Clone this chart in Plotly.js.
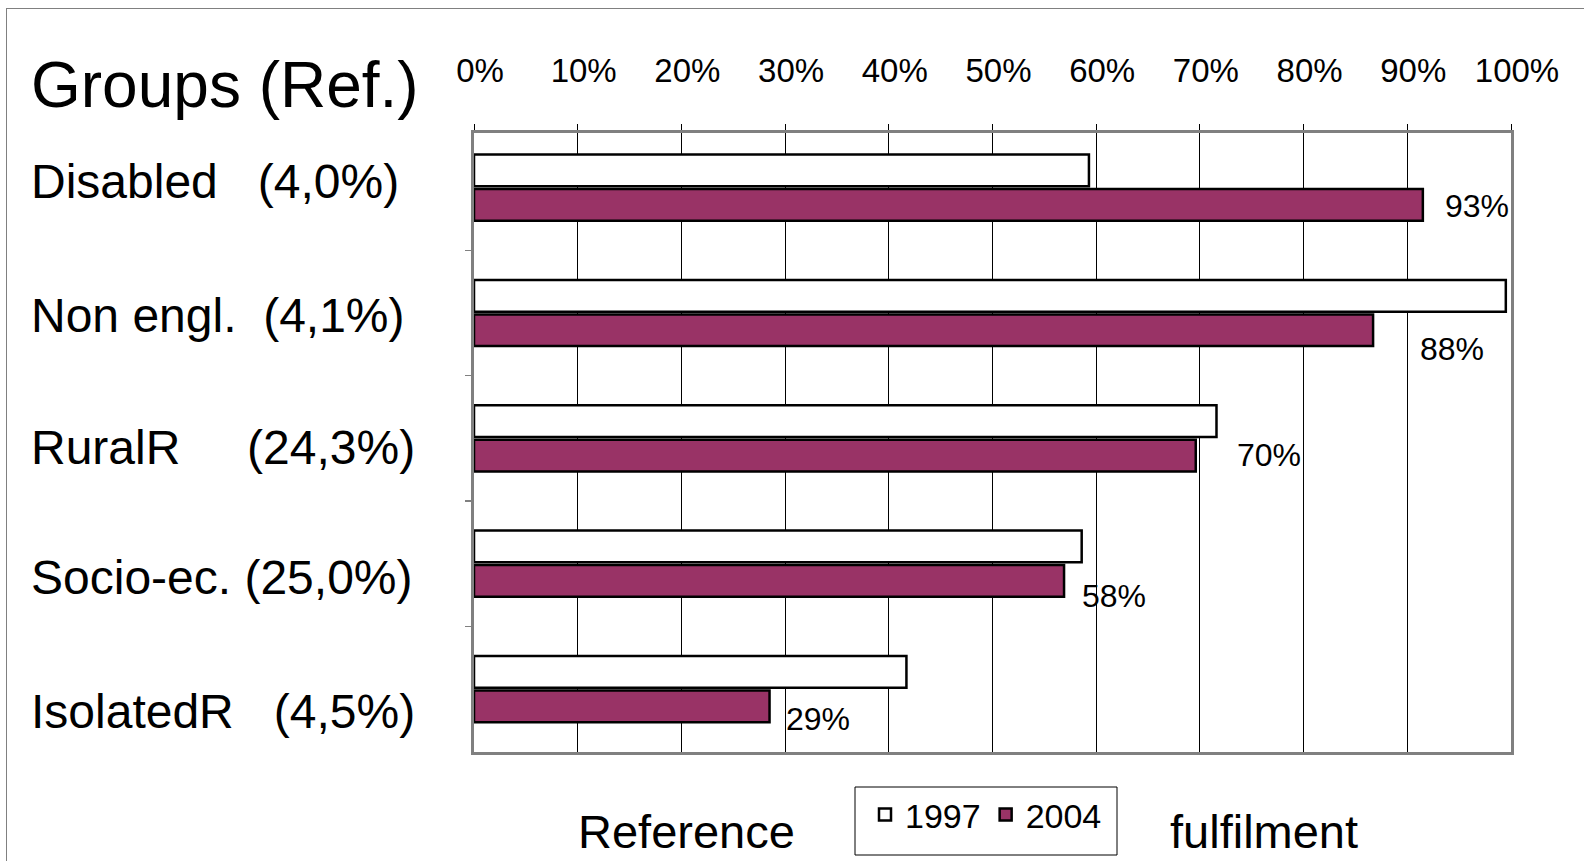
<!DOCTYPE html>
<html><head><meta charset="utf-8">
<script src="https://cdn.plot.ly/plotly-3.0.1.min.js"></script>
<style>
html,body{margin:0;padding:0;background:#fff;overflow:hidden}
#wrap{position:relative;width:1584px;height:861px;overflow:hidden}
#chart{position:absolute;left:0;top:0;width:1584px;height:861px}
#frame{position:absolute;left:6px;top:8px;width:1700px;height:1000px;border:1.5px solid #808080;pointer-events:none}
</style></head><body>
<div id="wrap"><div id="chart"></div><div id="frame"></div></div>
<script>
// ---- data ----
const groups = ["Disabled", "Non engl.", "RuralR", "Socio-ec.", "IsolatedR"];
const shares = ["(4,0%)", "(4,1%)", "(24,3%)", "(25,0%)", "(4,5%)"];
const years = ["1997", "2004"];
const fulfil1997 = [59.3, 99.5, 71.6, 58.6, 41.7];
const fulfil2004 = [91.5, 86.7, 69.6, 56.9, 28.5];
const labels2004 = ["93%", "88%", "70%", "58%", "29%"];
const xTickVals = [0, 10, 20, 30, 40, 50, 60, 70, 80, 90, 100];
const xTickText = xTickVals.map(v => v + "%");
const chartTitle = "Groups (Ref.)";
const axisWords = ["Reference", "fulfilment"];

// ---- layout / style ----
const FONT = "Liberation Sans, Arial, sans-serif";
const L = 474, T = 133, W = 1037, H = 619;
const px2x = p => (p - L) / W;
const px2y = p => (T + H - p) / H;
const gapSpaces = [3, 2, 5, 1, 3];
const labelShift = [6, -2, -9, -14, -22];
const valueXShift = [20, 45, 39, 16, 14];
const valueYShift = [-1, -19, 0, -15, -13];

const nb = "\u00a0";
const traces = [
  {
    type: "bar", orientation: "h", name: years[0],
    y: groups, x: fulfil1997,
    marker: {color: "#ffffff", line: {color: "#000000", width: 2.5}},
    hoverinfo: "skip"
  },
  {
    type: "bar", orientation: "h", name: years[1],
    y: groups, x: fulfil2004,
    marker: {color: "#993366", line: {color: "#000000", width: 2.5}},
    hoverinfo: "skip"
  }
];

const annotations = groups.map((g, i) => ({
  xref: "paper", yref: "y", x: px2x(29), y: g, xanchor: "left", yanchor: "middle",
  yshift: labelShift[i], showarrow: false,
  text: g.replace(/ /g, nb) + nb.repeat(gapSpaces[i]) + shares[i],
  font: {family: FONT, size: 48, color: "#000"}
}));
groups.forEach((g, i) => annotations.push({
  xref: "x", yref: "y", x: fulfil2004[i], y: g, xanchor: "left", yanchor: "middle",
  xshift: valueXShift[i], yshift: valueYShift[i] - 17, showarrow: false,
  text: labels2004[i], font: {family: FONT, size: 32, color: "#000"}
}));
annotations.push({
  xref: "paper", yref: "paper", x: px2x(29), y: px2y(85), xanchor: "left", yanchor: "middle",
  showarrow: false, text: chartTitle, font: {family: FONT, size: 64, color: "#000"}
});
annotations.push({
  xref: "paper", yref: "paper", x: px2x(686), y: px2y(831), xanchor: "center", yanchor: "middle",
  showarrow: false, text: axisWords[0], font: {family: FONT, size: 47, color: "#000"}
});
annotations.push({
  xref: "paper", yref: "paper", x: px2x(1264), y: px2y(831), xanchor: "center", yanchor: "middle",
  showarrow: false, text: axisWords[1], font: {family: FONT, size: 47, color: "#000"}
});

const layout = {
  width: 1584, height: 861,
  margin: {l: L, r: 1584 - L - W, t: T, b: 861 - T - H, pad: 0},
  paper_bgcolor: "rgba(0,0,0,0)", plot_bgcolor: "#ffffff",
  font: {family: FONT, color: "#000"},
  barmode: "group", bargap: 0.45, bargroupgap: 0.08,
  showlegend: true,
  legend: {
    orientation: "h", x: px2x(986), xanchor: "center", y: px2y(786), yanchor: "top",
    borderwidth: 0, bgcolor: "rgba(0,0,0,0)",
    font: {family: FONT, size: 34, color: "#000"}, traceorder: "normal"
  },
  shapes: [{
    type: "rect", xref: "paper", yref: "paper",
    x0: px2x(855), x1: px2x(1117), y0: px2y(787), y1: px2y(855),
    line: {color: "#000", width: 1}, fillcolor: "rgba(0,0,0,0)", layer: "above"
  }],
  xaxis: {
    side: "top", range: [0, 100], tickvals: xTickVals, ticktext: xTickText,
    showgrid: true, gridcolor: "#000", gridwidth: 1, zeroline: false,
    showline: true, linecolor: "#808080", linewidth: 3, mirror: true,
    ticks: "outside", ticklen: 6, tickcolor: "#000", tickwidth: 1,
    tickfont: {family: FONT, size: 33, color: "#000"},
    ticklabelshift: 6, ticklabelstandoff: 29, fixedrange: true
  },
  yaxis: {
    type: "category", range: [4.502, -0.436],
    showgrid: false, zeroline: false, showticklabels: false,
    showline: true, linecolor: "#808080", linewidth: 3, mirror: true,
    ticks: "outside", ticklen: 6, tickcolor: "#808080", tickwidth: 1.5,
    tickson: "boundaries", fixedrange: true
  },
  annotations: annotations,
  hovermode: false
};

Plotly.newPlot("chart", traces, layout, {displayModeBar: false, staticPlot: true});
</script>
</body></html>
